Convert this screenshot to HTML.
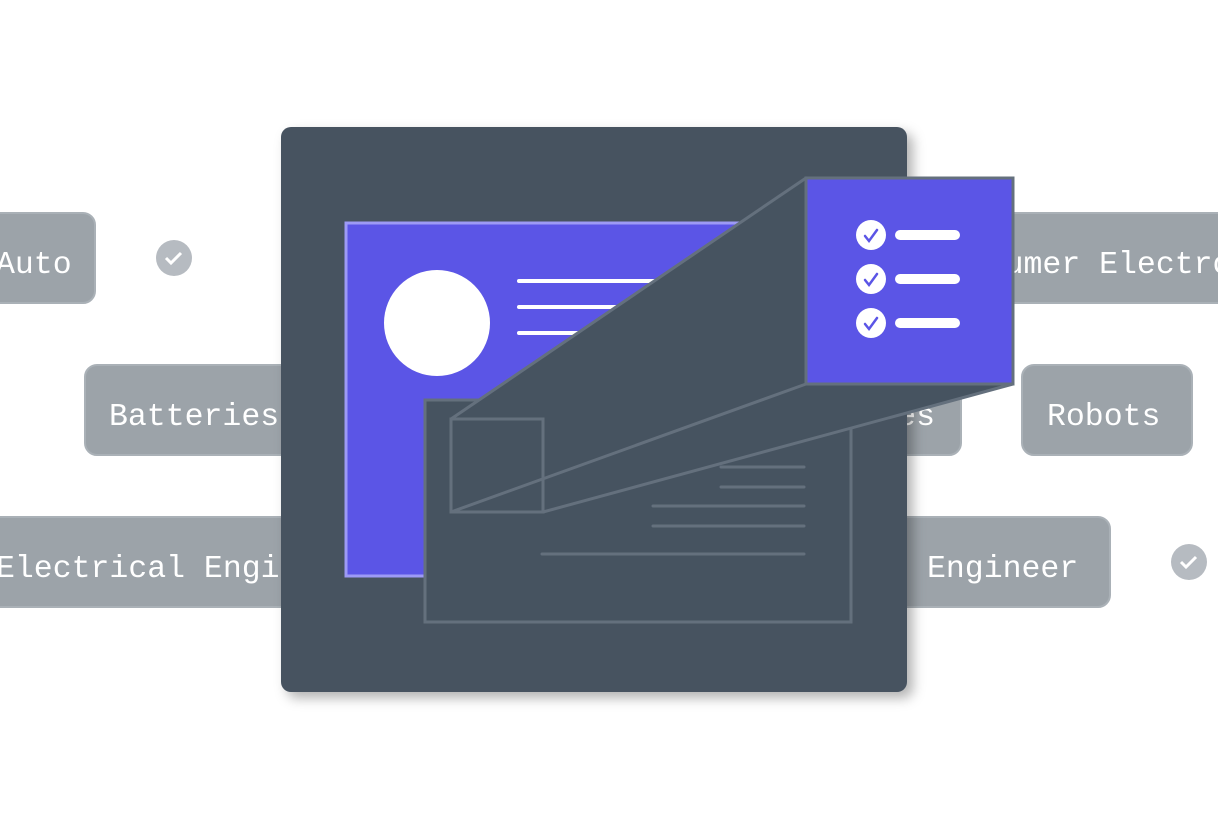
<!DOCTYPE html>
<html><head><meta charset="utf-8"><style>
html,body{margin:0;padding:0;background:#fff;width:1218px;height:820px;overflow:hidden}
svg{display:block}
text{font-family:"Liberation Mono","DejaVu Sans Mono",monospace;font-size:31.5px;fill:#fff}
</style></head><body>
<svg width="1218" height="820" viewBox="0 0 1218 820" xmlns="http://www.w3.org/2000/svg">
<defs>
<filter id="sh" x="-10%" y="-10%" width="125%" height="125%"><feDropShadow dx="6" dy="6" stdDeviation="6" flood-color="#000" flood-opacity="0.3"/></filter>
</defs>
<g stroke="#aab1b7" stroke-width="2" fill="#9ca3a9">
<rect x="-30" y="213" width="125" height="90" rx="12"/>
<rect x="85" y="365" width="230" height="90" rx="12"/>
<rect x="-30" y="517" width="330" height="90" rx="12"/>
<rect x="880" y="213" width="360" height="90" rx="12"/>
<rect x="800" y="365" width="161" height="90" rx="12"/>
<rect x="1022" y="365" width="170" height="90" rx="12"/>
<rect x="850" y="517" width="260" height="90" rx="12"/>
</g>
<text x="-4" y="273">Auto</text>
<text x="109" y="425">Batteries</text>
<text x="-4" y="577">Electrical Engineer</text>
<text x="929" y="273">Consumer Electronics</text>
<text x="935" y="425" text-anchor="end">Devices</text>
<text x="1047" y="425">Robots</text>
<text x="927" y="577">Engineer</text>
<circle cx="174" cy="258" r="18" fill="#b6bbc1"/>
<path d="M166 258l5 5 10-10" stroke="#fff" stroke-width="3" fill="none"/>
<circle cx="1189" cy="562" r="18" fill="#b6bbc1"/>
<path d="M1181 562l5 5 10-10" stroke="#fff" stroke-width="3" fill="none"/>

<rect x="281" y="127" width="626" height="565" rx="10" fill="#465360" filter="url(#sh)"/>
<rect x="346" y="223" width="500" height="353" fill="#5b55e6" stroke="#9d9af5" stroke-width="3"/>
<circle cx="437" cy="323" r="53" fill="#fff"/>
<g stroke="#fff" stroke-width="4" stroke-linecap="round">
<line x1="519" y1="281" x2="700" y2="281"/>
<line x1="519" y1="307" x2="700" y2="307"/>
<line x1="519" y1="333" x2="700" y2="333"/>
</g>
<rect x="425" y="400" width="426" height="222" fill="#465360" stroke="#64707d" stroke-width="3"/>
<g stroke="#64707d" stroke-width="3" stroke-linecap="round">
<line x1="721" y1="467" x2="804" y2="467"/>
<line x1="721" y1="487" x2="804" y2="487"/>
<line x1="653" y1="506" x2="804" y2="506"/>
<line x1="653" y1="526" x2="804" y2="526"/>
<line x1="542" y1="554" x2="804" y2="554"/>
</g>
<polygon points="451,419 806,178 806,384 1013,384 543,512 451,512" fill="#465360" stroke="#64707d" stroke-width="3" stroke-linejoin="round"/>
<g stroke="#64707d" stroke-width="3" fill="none">
<rect x="451" y="419" width="92" height="93"/>
<line x1="451" y1="512" x2="806" y2="384"/>
</g>
<rect x="806" y="178" width="207" height="206" fill="#5b55e6" stroke="#64707d" stroke-width="3"/>
<g fill="#fff">
<circle cx="871" cy="235" r="15"/><circle cx="871" cy="279" r="15"/><circle cx="871" cy="323" r="15"/>
<rect x="895" y="230" width="65" height="10" rx="5"/>
<rect x="895" y="274" width="65" height="10" rx="5"/>
<rect x="895" y="318" width="65" height="10" rx="5"/>
</g>
<g stroke="#5b55e6" stroke-width="2.5" fill="none" stroke-linecap="round">
<path d="M865 236l4 5 8-11"/><path d="M865 280l4 5 8-11"/><path d="M865 324l4 5 8-11"/>
</g>
</svg>
</body></html>
